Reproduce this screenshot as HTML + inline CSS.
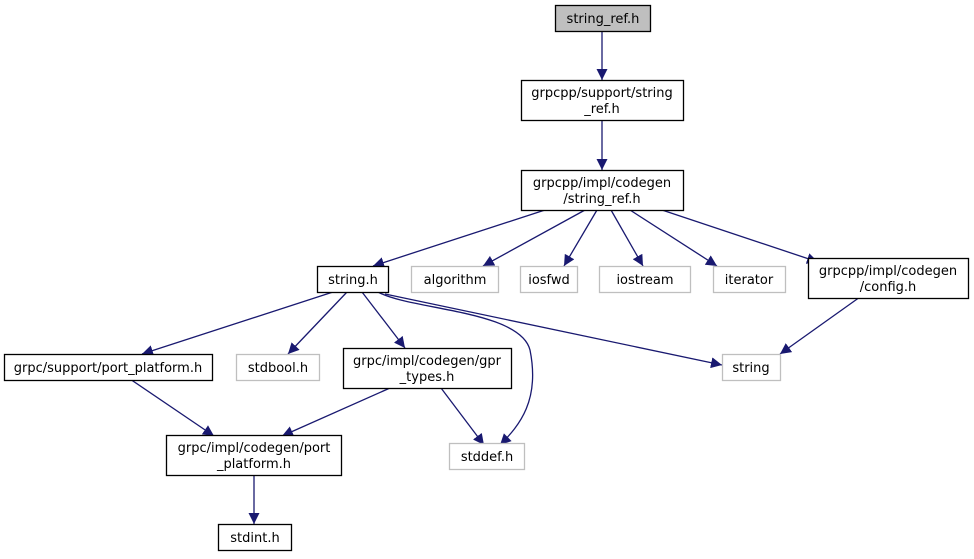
<!DOCTYPE html>
<html><head><meta charset="utf-8"><style>
html,body{margin:0;padding:0;background:#fff;width:974px;height:559px;overflow:hidden}
text{font-family:"DejaVu Sans","Liberation Sans",sans-serif;font-size:13px;fill:#000;text-anchor:middle}
</style></head><body>
<svg width="974" height="559" viewBox="0 0 974 559" xmlns="http://www.w3.org/2000/svg">
<defs><marker id="a" viewBox="0 0 10 10" refX="10" refY="5" markerWidth="11" markerHeight="11" markerUnits="userSpaceOnUse" orient="auto"><path d="M0,0L10,5L0,10z" fill="#191970"/></marker></defs>
<g stroke="#191970" stroke-width="1.3" fill="none" marker-end="url(#a)">
<path d="M602,31V80"/>
<path d="M602,120V170"/>
<path d="M545,210L373,266"/>
<path d="M585,210L483,266"/>
<path d="M597,210L564,266"/>
<path d="M611,210L643,266"/>
<path d="M630,210L717,266"/>
<path d="M662,210L818,262"/>
<path d="M333,292L142,354"/>
<path d="M347,292L288,354"/>
<path d="M362,292L405,348"/>
<path d="M378,292C410,310 520,310 530,350C540,400 520,425 500,445"/>
<path d="M385,294L722,365"/>
<path d="M860,297L780,354"/>
<path d="M130,379L214,436"/>
<path d="M390,388L282,436"/>
<path d="M441,388L484,445"/>
<path d="M254,474V524"/>
</g>
<g stroke-width="1.3">
<rect x="555.5" y="5.5" width="95" height="26" fill="#bfbfbf" stroke="#000"/>
<rect x="521.5" y="80.5" width="162" height="40" fill="#fff" stroke="#000"/>
<rect x="521.5" y="170.5" width="162" height="40" fill="#fff" stroke="#000"/>
<rect x="317.5" y="266.5" width="71" height="26" fill="#fff" stroke="#000"/>
<rect x="411.5" y="266.5" width="87" height="26" fill="#fff" stroke="#bfbfbf"/>
<rect x="520.5" y="266.5" width="57" height="26" fill="#fff" stroke="#bfbfbf"/>
<rect x="599.5" y="266.5" width="91" height="26" fill="#fff" stroke="#bfbfbf"/>
<rect x="713.5" y="266.5" width="72" height="26" fill="#fff" stroke="#bfbfbf"/>
<rect x="808.5" y="258.5" width="160" height="40" fill="#fff" stroke="#000"/>
<rect x="4.5" y="354.5" width="208" height="26" fill="#fff" stroke="#000"/>
<rect x="236.5" y="354.5" width="83" height="26" fill="#fff" stroke="#bfbfbf"/>
<rect x="343.5" y="348.5" width="168" height="40" fill="#fff" stroke="#000"/>
<rect x="722.5" y="354.5" width="58" height="26" fill="#fff" stroke="#bfbfbf"/>
<rect x="166.5" y="435.5" width="175" height="40" fill="#fff" stroke="#000"/>
<rect x="449.5" y="443.5" width="75" height="26" fill="#fff" stroke="#bfbfbf"/>
<rect x="218.5" y="524.5" width="73" height="26" fill="#fff" stroke="#000"/>
</g>
<text x="603" y="23">string_ref.h</text>
<text x="602" y="97">grpcpp/support/string</text>
<text x="602" y="113">_ref.h</text>
<text x="602" y="187">grpcpp/impl/codegen</text>
<text x="602" y="203">/string_ref.h</text>
<text x="353" y="284">string.h</text>
<text x="455" y="284">algorithm</text>
<text x="549" y="284">iosfwd</text>
<text x="645" y="284">iostream</text>
<text x="749" y="284">iterator</text>
<text x="888" y="275">grpcpp/impl/codegen</text>
<text x="888" y="291">/config.h</text>
<text x="108" y="372">grpc/support/port_platform.h</text>
<text x="278" y="372">stdbool.h</text>
<text x="427" y="365">grpc/impl/codegen/gpr</text>
<text x="427" y="381">_types.h</text>
<text x="751" y="372">string</text>
<text x="254" y="452">grpc/impl/codegen/port</text>
<text x="254" y="468">_platform.h</text>
<text x="487" y="461">stddef.h</text>
<text x="255" y="542">stdint.h</text>
</svg>
</body></html>
